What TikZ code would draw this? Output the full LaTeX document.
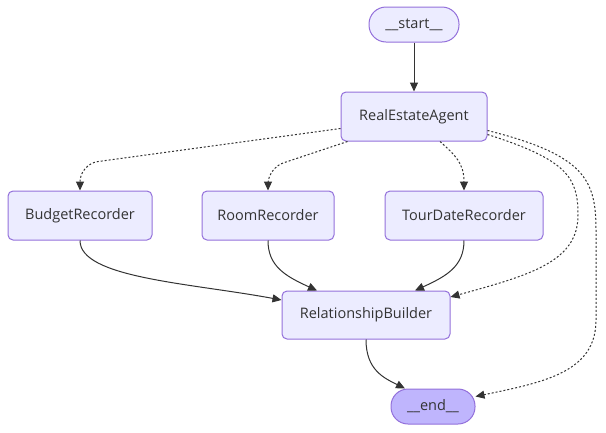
\documentclass[tikz,border=0pt]{standalone}
\usepackage{fontspec}
\setmainfont{Open Sans}
\usepackage{tikz}
\usetikzlibrary{arrows.meta}
\usepackage{xcolor}
\definecolor{nfill}{HTML}{ECECFF}
\definecolor{nline}{HTML}{9370DB}
\definecolor{efill}{HTML}{BFB5FD}
\definecolor{ink}{HTML}{333333}

\begin{document}
\begin{tikzpicture}[x=1pt,y=-1pt,
  box/.style={draw=nline,fill=nfill,line width=1pt,rounded corners=5pt,
    minimum height=49pt,text=ink,font=\fontsize{14.5}{17}\selectfont},
  pill/.style={box,rounded corners=17pt,minimum height=35pt},
  edge/.style={ink,line width=1pt,-{Triangle[length=9pt,width=8pt]}},
  cond/.style={edge,dash pattern=on 2pt off 2pt}]
  \useasboundingbox (0,0) rectangle (606,432);
  \node[pill,minimum width=90pt] (st) at (414,24.5){\_\_start\_\_};
  \node[box,minimum width=146pt] (rea) at (414,116.5){RealEstateAgent};
  \node[box,minimum width=144pt] (bud) at (80,215.5){BudgetRecorder};
  \node[box,minimum width=132pt] (room) at (268,215.5){RoomRecorder};
  \node[box,minimum width=158pt] (tour) at (464,215.5){TourDateRecorder};
  \node[box,minimum width=168pt,minimum height=48pt] (rb) at (366,315){RelationshipBuilder};
  \node[pill,fill=efill,minimum width=84pt] (en) at (433,406.5){\_\_end\_\_};
  \draw[edge] (st) -- (rea);
  \draw[cond,rounded corners=18pt] ([yshift=-12pt]rea.west) -- (80,164) -- (bud.north);
  \draw[cond,rounded corners=16pt] ([xshift=7pt]rea.south west) -- (268,168) -- (room.north);
  \draw[cond] ([xshift=26pt]rea.south) .. controls (455,155) and (464,163) .. (tour.north);
  \draw[cond] ([yshift=-18pt]rea.east) .. controls (568,160) and (578,178) .. (578,215)
    .. controls (578,262) and (530,275) .. ([yshift=18pt]rb.east);
  \draw[cond] ([yshift=-14pt]rea.east) .. controls (585,155) and (596,180) .. (596,230)
    -- (596,320) .. controls (596,372) and (545,382) .. ([yshift=10pt]en.east);
  \draw[edge] (bud.south) .. controls (80,278) and (190,283) .. ([yshift=15pt]rb.west);
  \draw[edge] (room.south) .. controls (268,266) and (285,276) .. ([xshift=-49pt]rb.north);
  \draw[edge] (tour.south) .. controls (464,266) and (447,276) .. ([xshift=49pt]rb.north);
  \draw[edge] (rb.south) .. controls (366,370) and (384,378) .. ([xshift=-28pt]en.north);
\end{tikzpicture}
\end{document}
